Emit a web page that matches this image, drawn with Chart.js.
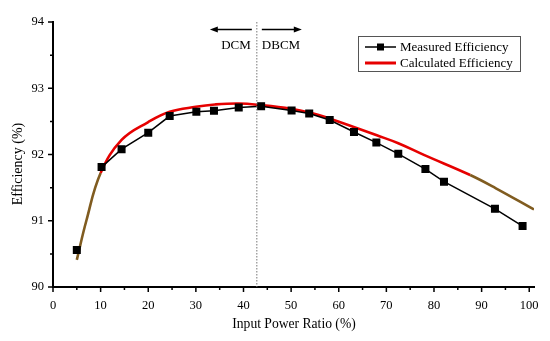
<!DOCTYPE html>
<html>
<head>
<meta charset="utf-8">
<script src="https://cdn.jsdelivr.net/npm/chart.js@4"></script>
<style>
  html, body { margin: 0; padding: 0; background: #fff; }
  #wrap { width: 550px; height: 341px; }
</style>
</head>
<body>
<div id="wrap"><canvas id="chart" width="550" height="341"></canvas></div>
<script>
// Measured efficiency points
const measuredX = [5, 10.2, 14.4, 20, 24.5, 30.1, 33.8, 39, 43.7, 50.1, 53.8, 58.1, 63.2, 67.9, 72.5, 78.2, 82.1, 92.8, 98.6];
const measuredY = [90.56, 91.81, 92.08, 92.33, 92.58, 92.645, 92.66, 92.71, 92.73, 92.665, 92.62, 92.52, 92.34, 92.18, 92.01, 91.78, 91.59, 91.18, 90.92];

// Calculated efficiency curve
const calcX = [5, 7, 10, 14.4, 20, 24.5, 30, 34, 39, 43.7, 50, 54, 58, 63, 68, 72.5, 78, 87.6, 93, 101];
const calcY = [90.41, 91.0, 91.72, 92.22, 92.49, 92.645, 92.72, 92.755, 92.77, 92.745, 92.69, 92.63, 92.545, 92.42, 92.29, 92.17, 91.99, 91.69, 91.49, 91.17];

// Axis ticks
const xTicks = [0, 10, 20, 30, 40, 50, 60, 70, 80, 90, 100];
const yTicks = [90, 91, 92, 93, 94];

// Mode boundary
const boundaryX = 42.8;
const modeLabels = ['DCM', 'DBCM'];
const axisTitles = ['Input Power Ratio (%)', 'Efficiency (%)'];

const serif = '"Liberation Serif", "Times New Roman", serif';
const red = 'rgb(230, 0, 0)';
const brown = 'rgb(128, 92, 32)';

const toPoints = (xs, ys) => xs.map((x, i) => ({ x: x, y: ys[i] }));

// Ticks, titles, boundary line, arrows and legend box
const decorPlugin = {
    id: 'decor',
    afterDraw(chart) {
        const ctx = chart.ctx;
        const xs = chart.scales.x;
        const ys = chart.scales.y;
        const area = chart.chartArea;
        ctx.save();

        // axis ticks (major + minor), pointing outward
        ctx.strokeStyle = '#000';
        ctx.lineWidth = 1.5;
        ctx.beginPath();
        for (let v = 0; v <= 100; v += 5) {
            const px = xs.getPixelForValue(v);
            const len = v % 10 === 0 ? 5 : 3;
            ctx.moveTo(px, area.bottom);
            ctx.lineTo(px, area.bottom + len);
        }
        for (let v = 90; v <= 94; v += 0.5) {
            const py = ys.getPixelForValue(v);
            const len = Number.isInteger(v) ? 5 : 3;
            ctx.moveTo(area.left, py);
            ctx.lineTo(area.left - len, py);
        }
        ctx.stroke();

        // axis titles
        ctx.fillStyle = '#000';
        ctx.textAlign = 'center';
        ctx.textBaseline = 'middle';
        ctx.font = '13.6px ' + serif;
        ctx.fillText(axisTitles[0], 294, 324);
        ctx.save();
        ctx.translate(18, 164);
        ctx.rotate(-Math.PI / 2);
        ctx.font = '14px ' + serif;
        ctx.fillText(axisTitles[1], 0, 0);
        ctx.restore();

        // dotted boundary
        const bx = xs.getPixelForValue(boundaryX);
        ctx.strokeStyle = '#777';
        ctx.lineWidth = 1;
        ctx.setLineDash([1.5, 1.5]);
        ctx.beginPath();
        ctx.moveTo(bx, area.top);
        ctx.lineTo(bx, area.bottom);
        ctx.stroke();
        ctx.setLineDash([]);

        // arrows
        const ay = 29.5;
        ctx.strokeStyle = '#000';
        ctx.fillStyle = '#000';
        ctx.lineWidth = 1.6;
        const arrow = (from, to) => {
            const dir = Math.sign(to - from);
            ctx.beginPath();
            ctx.moveTo(from, ay);
            ctx.lineTo(to - dir * 6, ay);
            ctx.stroke();
            ctx.beginPath();
            ctx.moveTo(to, ay);
            ctx.lineTo(to - dir * 8, ay - 3);
            ctx.lineTo(to - dir * 8, ay + 3);
            ctx.closePath();
            ctx.fill();
        };
        arrow(bx - 5, bx - 47);
        arrow(bx + 5, bx + 45);

        ctx.font = '13px ' + serif;
        ctx.textAlign = 'right';
        ctx.fillText(modeLabels[0], bx - 6, 46);
        ctx.textAlign = 'left';
        ctx.fillText(modeLabels[1], bx + 5, 46);

        // legend box
        const lx = 358, ly = 36, lw = 162, lh = 35;
        ctx.strokeStyle = '#555';
        ctx.lineWidth = 1;
        ctx.strokeRect(lx + 0.5, ly + 0.5, lw, lh);
        ctx.font = '13px ' + serif;
        chart.data.datasets.forEach((ds, i) => {
            const ry = ly + 11 + i * 16;
            ctx.strokeStyle = i === 0 ? '#000' : red;
            ctx.lineWidth = i === 0 ? 1.5 : 3;
            ctx.beginPath();
            ctx.moveTo(lx + 7, ry);
            ctx.lineTo(lx + 38, ry);
            ctx.stroke();
            if (i === 0) {
                ctx.fillStyle = '#000';
                ctx.fillRect(lx + 19, ry - 3.5, 7, 7);
            }
            ctx.fillStyle = '#000';
            ctx.textAlign = 'left';
            ctx.fillText(ds.label, lx + 42, ry + 0.5);
        });

        ctx.restore();
    }
};

new Chart(document.getElementById('chart'), {
    type: 'line',
    data: {
        datasets: [
            {
                label: 'Measured Efficiency',
                data: toPoints(measuredX, measuredY),
                borderColor: '#000',
                backgroundColor: '#000',
                borderWidth: 1.5,
                pointStyle: 'rect',
                pointRadius: 4.6,
                pointHoverRadius: 4.6,
                tension: 0,
                segment: {
                    borderColor: c => c.p0DataIndex === 0 ? 'rgba(0,0,0,0)' : '#000'
                },
                order: 1
            },
            {
                label: 'Calculated Efficiency',
                data: toPoints(calcX, calcY),
                borderColor: red,
                borderWidth: 2.6,
                pointRadius: 0,
                tension: 0.4,
                segment: {
                    borderColor: c => (c.p0.parsed.x < 9.5 || c.p0.parsed.x > 87) ? brown : red
                },
                order: 2
            }
        ]
    },
    options: {
        responsive: false,
        animation: false,
        layout: { padding: { top: 22, right: 16, left: 0, bottom: 0 } },
        plugins: {
            legend: { display: false },
            tooltip: { enabled: false }
        },
        scales: {
            x: {
                type: 'linear',
                min: 0,
                max: 101,
                afterFit: s => { s.height = 54; },
                afterBuildTicks: s => { s.ticks = xTicks.map(v => ({ value: v })); },
                border: { color: '#000', width: 2 },
                grid: { display: false },
                ticks: {
                    color: '#000',
                    padding: 3,
                    font: { family: serif, size: 12.5 }
                }
            },
            y: {
                type: 'linear',
                min: 90,
                max: 94,
                afterFit: s => { s.width = 53; },
                afterBuildTicks: s => { s.ticks = yTicks.map(v => ({ value: v })); },
                border: { color: '#000', width: 2 },
                grid: { display: false },
                ticks: {
                    color: '#000',
                    padding: 1,
                    font: { family: serif, size: 12.5 }
                }
            }
        }
    },
    plugins: [decorPlugin]
});
</script>
</body>
</html>
